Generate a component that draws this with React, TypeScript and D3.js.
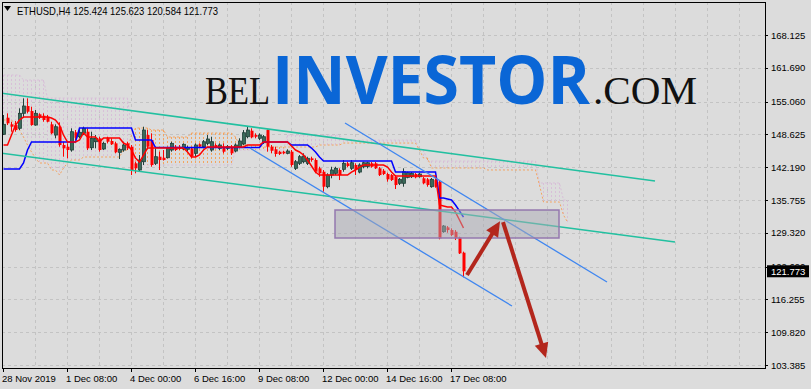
import React from 'react';
import * as d3 from 'd3';

// ---------- data ----------
const symbolTitle = 'ETHUSD,H4  125.424 125.623 120.584 121.773';
const priceTicks = [168.125, 161.69, 155.06, 148.625, 142.19, 135.755, 129.32, 122.69, 116.255, 109.82, 103.385];
const priceTickLabels = ['168.125', '161.690', '155.060', '148.625', '142.190', '135.755', '129.320', '122.690', '116.255', '109.820', '103.385'];
const timeLabels = ['28 Nov 2019', '1 Dec 08:00', '4 Dec 00:00', '6 Dec 16:00', '9 Dec 08:00', '12 Dec 00:00', '14 Dec 16:00', '17 Dec 08:00'];
const timeLabelBars = [0, 16, 32, 48, 64, 80, 96, 112];
const lastPrice = 121.773;

const opens = [148.64,151.90,150.60,150.46,149.82,152.76,154.19,153.21,150.46,152.56,152.29,152.09,150.60,148.50,150.13,146.54,146.21,145.56,149.03,148.17,148.84,149.15,146.01,147.19,147.86,145.76,147.97,147.33,146.87,145.11,145.56,146.87,146.21,142.95,141.64,143.26,148.50,147.52,142.95,144.25,144.05,144.05,145.56,146.21,146.21,145.76,145.70,145.89,144.91,146.68,146.21,146.87,145.56,146.54,145.89,146.21,145.89,146.21,145.36,146.21,146.74,148.17,149.35,148.50,147.86,146.99,149.48,146.21,145.70,145.23,145.23,144.91,145.23,141.97,142.95,143.26,142.95,143.93,143.60,141.97,141.30,138.36,140.65,140.99,141.64,141.77,142.95,141.97,142.62,141.24,142.28,142.35,142.95,142.95,141.97,141.50,140.85,140.65,140.32,139.03,139.03,140.20,140.32,140.85,140.32,140.01,139.81,138.36,139.67,139.34,129.53,130.39,129.86,129.53,128.43,125.424];
const highs = [152.43,152.76,151.11,151.25,153.74,155.70,155.70,154.06,153.41,152.76,152.76,152.43,151.11,150.60,150.99,147.19,146.87,149.82,149.48,149.82,150.13,149.82,149.15,148.50,148.17,147.19,148.17,147.86,147.19,145.89,147.19,147.19,146.54,143.26,144.58,150.13,149.48,148.84,145.89,145.23,145.56,146.21,147.19,146.54,146.54,146.87,146.40,146.21,146.87,146.87,147.52,148.50,148.17,146.87,146.87,146.87,146.54,146.54,146.87,147.86,149.48,150.13,149.82,148.84,148.84,148.50,149.60,146.54,146.21,145.42,145.42,145.70,145.56,143.60,144.58,144.91,144.25,144.25,143.93,142.28,141.64,140.99,142.28,142.28,141.97,143.60,143.26,143.60,142.95,142.95,143.26,143.26,143.21,143.21,142.22,141.83,141.11,140.85,140.65,140.07,141.97,141.30,141.24,141.05,141.05,140.26,140.07,140.07,139.87,139.67,130.84,130.65,130.20,129.86,128.55,125.623];
const lows = [148.50,150.46,149.15,149.15,149.48,151.84,152.76,150.33,150.33,151.64,151.11,150.99,148.64,147.86,146.21,144.25,143.93,145.23,147.52,147.86,148.50,145.56,145.56,145.89,145.23,145.56,146.87,146.54,144.91,143.79,145.23,145.56,140.65,140.99,141.30,142.62,145.89,142.28,142.62,141.64,143.50,143.93,145.23,145.36,145.56,145.56,145.36,143.93,144.25,145.89,145.89,146.54,145.23,145.89,145.56,144.91,145.56,144.58,145.11,145.89,146.54,147.86,147.86,147.86,147.52,146.74,145.23,144.91,144.25,144.58,144.72,144.72,142.28,141.64,142.62,142.95,142.62,143.26,140.99,140.32,137.38,138.05,140.01,140.65,139.67,141.30,142.17,141.64,140.65,140.99,141.97,141.97,142.09,141.83,140.46,140.65,139.34,139.48,137.91,138.69,138.36,140.01,140.07,140.01,140.13,138.83,138.36,138.16,138.16,128.04,129.33,129.33,128.69,127.90,125.16,120.584];
const closes = [150.60,150.80,150.13,149.48,152.76,154.19,153.07,150.46,152.76,151.90,151.45,151.11,148.84,150.13,146.54,145.89,145.56,149.15,147.97,149.03,149.82,145.89,147.86,147.86,145.56,146.87,147.19,146.68,145.11,145.70,146.54,145.89,141.64,141.97,143.60,149.48,146.21,142.62,144.25,143.60,143.60,145.89,146.87,145.56,145.76,146.68,146.01,144.25,146.54,146.21,147.19,147.72,147.19,146.01,146.54,145.23,146.21,144.91,146.54,147.33,148.95,149.48,148.05,148.17,148.50,148.17,146.21,145.42,144.78,144.78,144.91,145.36,142.62,143.26,144.25,144.38,143.93,143.60,141.30,140.99,138.36,140.65,141.64,141.97,140.65,142.95,142.42,143.07,141.64,142.62,143.07,143.07,142.28,141.97,140.65,140.85,139.81,139.67,138.69,139.81,141.30,141.11,140.99,140.20,140.85,139.03,138.69,139.81,138.36,128.24,130.65,129.86,128.88,128.24,125.29,121.773];

// Ichimoku lines, as runs of [bar count, price]
const tenkanRuns: [number, number][] = [[2,146.54],[1,148.50],[1,150.46],[1,151.45],[7,152.03],[1,151.84],[1,151.45],[1,150.46],[1,148.50],[3,147.13],[1,147.52],[1,148.90],[3,148.11],[1,147.13],[5,147.91],[1,146.93],[1,146.54],[1,145.56],[1,143.99],[1,143.21],[1,144.58],[10,145.95],[1,145.17],[2,144.19],[1,144.58],[1,145.56],[10,146.15],[4,146.54],[7,147.13],[1,146.35],[1,145.56],[1,145.17],[1,144.58],[1,143.60],[1,142.42],[1,141.24],[8,140.66],[1,141.24],[1,141.64],[1,142.22],[6,142.62],[1,142.22],[1,141.24],[11,140.46],[1,134.77],[1,134.57],[2,134.37],[1,133.39],[1,131.83],[1,130.26]];
const kijunRuns: [number, number][] = [[5,141.83],[1,143.01],[1,145.56],[12,147.13],[14,149.88],[5,147.52],[27,146.05],[7,147.13],[5,146.54],[1,145.95],[1,145.17],[1,144.19],[18,143.40],[11,141.24],[2,136.14],[1,135.95],[1,135.75],[1,134.77],[1,133.59],[1,132.41]];
const senkouARuns: [number, number][] = [[3,151.45],[1,150.46],[1,149.48],[1,148.11],[1,146.54],[1,145.17],[1,143.99],[3,143.01],[2,141.64],[1,140.66],[1,142.03],[1,143.01],[3,143.60],[10,144.19],[2,145.56],[1,148.50],[4,149.88],[4,149.48],[6,148.11],[11,148.90],[1,148.11],[6,146.54],[14,146.15],[6,146.54],[19,146.93],[1,145.56],[2,143.99],[14,142.03],[13,141.64],[1,138.69],[5,135.36],[1,132.80],[1,131.43]];
const senkouBRuns: [number, number][] = [[5,160.28],[6,159.29],[21,155.76],[1,149.48],[25,142.62],[13,145.56],[14,148.50],[19,147.52],[2,145.56],[28,143.40],[6,139.09],[2,135.75]];

// Drawn objects, in [bar, price]
const tealChannel: [[number, number], [number, number]][] = [
  [[-0.75, 156.74], [163, 139.48]],
  [[-0.75, 144.97], [168, 127.51]],
];
const blueChannel: [[number, number], [number, number]][] = [
  [[85.5, 150.86], [151, 119.66]],
  [[61.75, 145.95], [127.25, 114.95]],
];
const zoneBars = [83, 139];
const zonePrices = [133.79, 128.30];
const arrows: [[number, number], [number, number]][] = [
  [[116, 121.03], [124.25, 131.6]],
  [[125, 131.43], [135.75, 104.75]],
];

function expand(runs: [number, number][]): number[] {
  const out: number[] = [];
  runs.forEach(([n, v]) => { for (let k = 0; k < n; k++) out.push(v); });
  return out;
}

export default function App() {
  const x = d3.scaleLinear().domain([0, 115]).range([3, 463]);
  const y = d3.scaleLinear().domain([103.385, 168.125]).range([365, 35]);
  const left = 2, right = 765, top = 2, bottom = 368;

  const tenkan = expand(tenkanRuns);
  const kijun = expand(kijunRuns);
  const spanA = expand(senkouARuns);
  const spanB = expand(senkouBRuns);

  const line = d3.line<number>().x((_, i) => x(i) + 0.5).y(d => y(d));

  const bull = '#3b6a5a';
  const bullEdge = '#22403a';
  const bear = '#ff0000';

  const vGrid = d3.range(1, 24).map(k => x(k * 8) + 0.5).filter(v => v < right);

  const arrowEls = arrows.map(([[b0, p0], [b1, p1]], k) => {
    const x0 = x(b0), y0 = y(p0), x1 = x(b1), y1 = y(p1);
    const dx = x1 - x0, dy = y1 - y0;
    const len = Math.hypot(dx, dy);
    const ux = dx / len, uy = dy / len;
    const hl = 15, hw = 7;
    const bx = x1 - ux * hl, by = y1 - uy * hl;
    const pts = [[x1, y1], [bx - uy * hw, by + ux * hw], [bx + uy * hw, by - ux * hw]];
    return (
      <g key={'arr' + k}>
        <line x1={x0} y1={y0} x2={bx + ux * 2} y2={by + uy * 2} stroke="#b3261c" strokeWidth={4} strokeLinecap="butt" />
        <polygon points={pts.map(p => p.join(',')).join(' ')} fill="#b3261c" />
      </g>
    );
  });

  return (
    <svg width={811} height={389} style={{ position: 'absolute', left: 0, top: 0, display: 'block' }}
      xmlns="http://www.w3.org/2000/svg">
      <rect x={0} y={0} width={811} height={389} fill="#dcdcdc" />
      <defs>
        <clipPath id="plot">
          <rect x={left} y={top} width={right - left} height={bottom - top} />
        </clipPath>
      </defs>

      {/* grid */}
      <g stroke="#c3c3c3" strokeWidth={1} strokeDasharray="3,3">
        {priceTicks.map((p, i) => (
          <line key={'hg' + i} x1={left} x2={right} y1={Math.round(y(p)) + 0.5} y2={Math.round(y(p)) + 0.5} />
        ))}
        {vGrid.map((v, i) => (
          <line key={'vg' + i} x1={v} x2={v} y1={top} y2={bottom} />
        ))}
      </g>

      <g clipPath="url(#plot)">
        {/* watermark */}
        <text x={205} y={104} fontFamily="Liberation Serif" fontSize={39} fill="#111" textLength={65} lengthAdjust="spacingAndGlyphs">BEL</text>
        <text x={272} y={104} fontFamily="Open Sans" fontWeight={700} fontSize={66} fill="#0a66d6" textLength={318} lengthAdjust="spacingAndGlyphs">INVESTOR</text>
        <text x={593} y={104} fontFamily="Liberation Serif" fontSize={39} fill="#111" textLength={104} lengthAdjust="spacingAndGlyphs">.COM</text>

        {/* cloud hatching */}
        <g strokeWidth={1} strokeDasharray="2,2">
          {spanA.map((a, j) => {
            const b = spanB[j];
            const cx = x(j) + 0.5;
            return (
              <line key={'h' + j} x1={cx} x2={cx} y1={y(Math.max(a, b))} y2={y(Math.min(a, b))}
                stroke={a >= b ? '#f4a460' : '#d8bfd8'} />
            );
          })}
        </g>
        <path d={line(spanB) || ''} fill="none" stroke="#d8bfd8" strokeWidth={1} strokeDasharray="2,2" />
        <path d={line(spanA) || ''} fill="none" stroke="#f4a460" strokeWidth={1} strokeDasharray="2,2" />

        {/* candles */}
        {opens.map((o, i) => {
          const c = closes[i], h = highs[i], l = lows[i];
          const up = c >= o;
          const cx = Math.round(x(i));
          const yt = y(Math.max(o, c)), yb = y(Math.min(o, c));
          return (
            <g key={'c' + i}>
              <line x1={cx + 0.5} x2={cx + 0.5} y1={y(h)} y2={y(l)} stroke={up ? bullEdge : bear} strokeWidth={1} />
              <rect x={cx - 0.5} y={yt} width={3} height={Math.max(1, yb - yt)}
                fill={up ? bull : bear} stroke={up ? bullEdge : bear} strokeWidth={up ? 0.8 : 0} />
            </g>
          );
        })}

        {/* tenkan / kijun */}
        <path d={line(kijun) || ''} fill="none" stroke="#0000ff" strokeWidth={1.5} />
        <path d={line(tenkan) || ''} fill="none" stroke="#ff0000" strokeWidth={1.5} />

        {/* channels */}
        {tealChannel.map(([[b0, p0], [b1, p1]], k) => (
          <line key={'t' + k} x1={x(b0)} y1={y(p0)} x2={x(b1)} y2={y(p1)} stroke="#22c0a0" strokeWidth={1.6} />
        ))}
        {blueChannel.map(([[b0, p0], [b1, p1]], k) => (
          <line key={'b' + k} x1={x(b0)} y1={y(p0)} x2={x(b1)} y2={y(p1)} stroke="#3f86f0" strokeWidth={1.3} />
        ))}

        {/* zone */}
        <rect x={x(zoneBars[0])} y={y(zonePrices[0])} width={x(zoneBars[1]) - x(zoneBars[0])}
          height={y(zonePrices[1]) - y(zonePrices[0])} fill="rgba(170,170,180,0.5)" stroke="#9478ae" strokeWidth={1.5} />

        {arrowEls}
      </g>

      {/* frame */}
      <rect x={left + 0.5} y={top + 0.5} width={right - left} height={bottom - top} fill="none" stroke="#000" strokeWidth={1} />

      {/* right axis */}
      <g fontFamily="Liberation Sans" fontSize={9.5} fill="#000">
        {priceTicks.map((p, i) => (
          <g key={'pt' + i}>
            <line x1={right} x2={right + 3} y1={Math.round(y(p)) + 0.5} y2={Math.round(y(p)) + 0.5} stroke="#000" />
            <text x={771} y={y(p) + 3.5}>{priceTickLabels[i]}</text>
          </g>
        ))}
        <rect x={767} y={y(lastPrice) - 6} width={42} height={12} fill="#000" />
        <text x={771} y={y(lastPrice) + 3.5} fill="#fff">{lastPrice.toFixed(3)}</text>
      </g>

      {/* bottom axis */}
      <g fontFamily="Liberation Sans" fontSize={9.5} fill="#000">
        {timeLabelBars.map((b, i) => (
          <g key={'tl' + i}>
            <line x1={Math.round(x(b)) + 0.5} x2={Math.round(x(b)) + 0.5} y1={bottom} y2={bottom + 4} stroke="#000" />
            <text x={Math.round(x(b)) - 1} y={382}>{timeLabels[i]}</text>
          </g>
        ))}
      </g>

      {/* title */}
      <polygon points="4,6 11,6 7.5,11" fill="#000" />
      <text x={17} y={15} fontFamily="Liberation Sans" fontSize={10.5} fill="#000" textLength={201} lengthAdjust="spacingAndGlyphs">{symbolTitle}</text>
    </svg>
  );
}
